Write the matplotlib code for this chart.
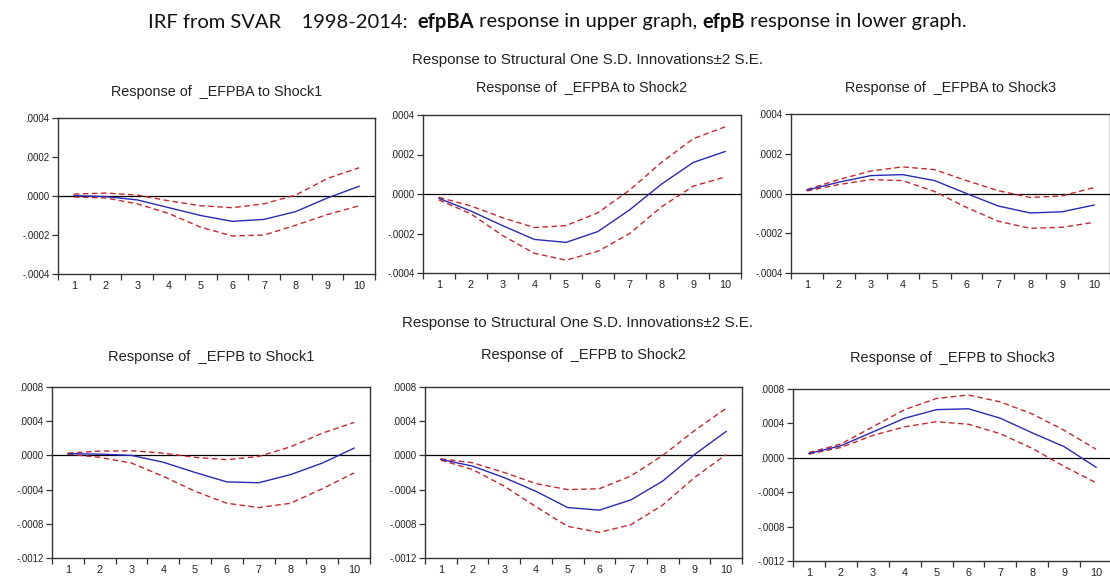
import matplotlib
matplotlib.use("Agg")
import matplotlib.pyplot as plt
from matplotlib.ticker import FuncFormatter, FixedLocator

# ---------------- data ----------------
periods = [1, 2, 3, 4, 5, 6, 7, 8, 9, 10]

efpba_s1_mid = [0.000002, -0.000003, -0.00002, -0.00006, -0.0001, -0.00013, -0.00012, -0.00008, -0.00001, 0.00005]
efpba_s1_up = [0.00001, 0.000015, 0.000005, -0.000025, -0.00005, -0.00006, -0.00004, 0.000005, 0.00009, 0.000145]
efpba_s1_lo = [-0.000005, -0.00001, -0.00004, -0.00009, -0.00016, -0.000205, -0.0002, -0.00015, -0.000095, -0.00005]

efpba_s2_mid = [-0.000022, -0.000086, -0.00016, -0.00023, -0.000245, -0.00019, -0.00008, 0.00005, 0.00016, 0.000215]
efpba_s2_up = [-0.000017, -0.00006, -0.00012, -0.00017, -0.00016, -0.000095, 0.00002, 0.00016, 0.00028, 0.00034]
efpba_s2_lo = [-0.00003, -0.0001, -0.00021, -0.0003, -0.000335, -0.00029, -0.0002, -0.000065, 0.00004, 0.000086]

efpba_s3_mid = [0.000017, 0.000057, 0.00009, 0.000095, 0.000065, 0.0, -0.000063, -0.000098, -0.000092, -0.000058]
efpba_s3_up = [0.00002, 0.00007, 0.000113, 0.000134, 0.00012, 0.000065, 0.000014, -0.00002, -0.000012, 0.00003]
efpba_s3_lo = [0.000013, 0.000045, 0.00007, 0.000065, 0.00001, -0.00007, -0.00014, -0.000175, -0.00017, -0.000145]

efpb_s1_mid = [0.00002, 0.000015, 0.0, -0.00008, -0.0002, -0.00031, -0.00032, -0.000225, -0.00009, 0.000085]
efpb_s1_up = [0.000027, 0.00005, 0.000054, 0.000027, -0.000023, -0.00005, -0.000012, 0.0001, 0.00026, 0.000385]
efpb_s1_lo = [0.000015, -0.000023, -0.00009, -0.000245, -0.00042, -0.00056, -0.00061, -0.00056, -0.00039, -0.000205]

efpb_s2_mid = [-0.000047, -0.000125, -0.00026, -0.00042, -0.00061, -0.00064, -0.00052, -0.0003, 0.00001, 0.00028]
efpb_s2_up = [-0.00004, -0.000086, -0.0002, -0.00033, -0.0004, -0.00039, -0.00024, 0.0, 0.00029, 0.00055]
efpb_s2_lo = [-0.000055, -0.000165, -0.00036, -0.0006, -0.00083, -0.0009, -0.00081, -0.00058, -0.00026, 0.00001]

efpb_s3_mid = [0.00005, 0.00014, 0.0003, 0.00046, 0.00056, 0.00057, 0.00046, 0.00029, 0.00013, -0.00011]
efpb_s3_up = [0.00006, 0.00016, 0.00036, 0.00056, 0.00069, 0.00073, 0.00065, 0.00051, 0.00032, 0.0001]
efpb_s3_lo = [0.000043, 0.00012, 0.00026, 0.00036, 0.00042, 0.00039, 0.00028, 0.00011, -0.0001, -0.00029]

panel_titles = ["Response of  _EFPBA to Shock1", "Response of  _EFPBA to Shock2", "Response of  _EFPBA to Shock3",
                "Response of  _EFPB to Shock1", "Response of  _EFPB to Shock2", "Response of  _EFPB to Shock3"]
top_yticks = [-0.0004, -0.0002, 0.0, 0.0002, 0.0004]
bot_yticks = [-0.0012, -0.0008, -0.0004, 0.0, 0.0004, 0.0008]

panels = [
    (efpba_s1_mid, efpba_s1_up, efpba_s1_lo),
    (efpba_s2_mid, efpba_s2_up, efpba_s2_lo),
    (efpba_s3_mid, efpba_s3_up, efpba_s3_lo),
    (efpb_s1_mid, efpb_s1_up, efpb_s1_lo),
    (efpb_s2_mid, efpb_s2_up, efpb_s2_lo),
    (efpb_s3_mid, efpb_s3_up, efpb_s3_lo),
]

# ---------------- layout (pixels) ----------------
W, H = 1110, 580
fig = plt.figure(figsize=(W / 100, H / 100), dpi=100)
fig.patch.set_facecolor("white")
renderer = fig.canvas.get_renderer()

boxes = [  # x0, x1, ytop, ybottom in pixels
    (58, 375, 118, 274),
    (423, 741, 115, 273),
    (791, 1110, 114, 273),
    (52, 370, 387, 558),
    (425, 742, 387, 558),
    (793, 1112, 389, 561),
]
title_y = [92, 88, 88, 357, 355, 358]
title_w = [212, 212, 212, 205, 205, 205]

sans = ["Liberation Sans", "DejaVu Sans"]
BLUE = "#2a2ab4"
RED = "#c8282d"


def fit_width(t, target):
    w = t.get_window_extent(renderer).width
    t.set_fontsize(t.get_fontsize() * target / w)


def fmt(v, pos):
    s = f"{v:.4f}"
    if s.startswith("-0"):
        s = "-" + s[2:]
    elif s.startswith("0"):
        s = s[1:]
    if s == "-.0000":
        s = ".0000"
    return s


for i, ((mid, up, lo), (x0, x1, yt, yb)) in enumerate(zip(panels, boxes)):
    ax = fig.add_axes([x0 / W, 1 - yb / H, (x1 - x0) / W, (yb - yt) / H])
    ax.plot(periods, up, color=RED, lw=1.0, ls=(0, (4, 2.5)))
    ax.plot(periods, lo, color=RED, lw=1.0, ls=(0, (4, 2.5)))
    ax.plot(periods, mid, color=BLUE, lw=1.0)
    ax.axhline(0, color="black", lw=0.9, zorder=1)
    ax.set_xlim(0.5, 10.5)
    ticks = top_yticks if i < 3 else bot_yticks
    ax.set_ylim(ticks[0], ticks[-1])
    ax.yaxis.set_major_locator(FixedLocator(ticks))
    ax.yaxis.set_major_formatter(FuncFormatter(fmt))
    ax.set_xticks([p - 0.5 for p in periods] + [10.5])
    ax.set_xticklabels([])
    ax.set_xticks(periods, minor=True)
    ax.set_xticklabels([str(p) for p in periods], minor=True)
    ax.tick_params(axis="x", which="major", direction="out", length=4, width=0.9, color="#333333")
    ax.tick_params(axis="x", which="minor", length=0, pad=5, labelsize=7.8, labelcolor="#222222")
    ax.tick_params(axis="y", direction="out", length=4, width=0.9, color="#333333", labelsize=7, pad=2,
                   labelcolor="#222222")
    for lab in ax.get_xticklabels(minor=True) + ax.get_yticklabels():
        lab.set_family(sans)
    for sp in ax.spines.values():
        sp.set_color("#333333")
        sp.set_linewidth(1.0)
    t = fig.text((x0 + x1) / 2 / W, 1 - title_y[i] / H, panel_titles[i], ha="center", va="center",
                 fontsize=10, family=sans, color="#222222")
    fit_width(t, title_w[i])

# subtitles
sub = "Response to Structural One S.D. Innovations\u00b12 S.E."
narrow = ["Liberation Sans Narrow", "Liberation Sans", "DejaVu Sans"]
s1 = fig.text(587 / W, 1 - 60 / H, sub, ha="center", va="center", fontsize=10, family=narrow, color="#222222")
s2 = fig.text(578 / W, 1 - 323 / H, sub, ha="center", va="center", fontsize=10, family=narrow, color="#222222")
fit_width(s1, 352)
fit_width(s2, 352)

# main title with bold segments
segments = [("IRF from SVAR    1998-2014:  ", "normal"), ("efpBA", "bold"),
            (" response in upper graph, ", "normal"), ("efpB", "bold"),
            (" response in lower graph.", "normal")]
tfam = ["Lato", "DejaVu Sans"]
texts = []
for s, w in segments:
    t = fig.text(0, 1 - 22 / H, s, ha="left", va="center", fontsize=12, family=tfam, weight=w, color="#111111")
    texts.append(t)
total = sum(t.get_window_extent(renderer).width for t in texts)
for t in texts:
    t.set_fontsize(12 * 815 / total)
widths = [t.get_window_extent(renderer).width for t in texts]
x = 557 - sum(widths) / 2
for t, wd in zip(texts, widths):
    t.set_x(x / W)
    x += wd

fig.savefig("out.png", dpi=100, facecolor="white")
